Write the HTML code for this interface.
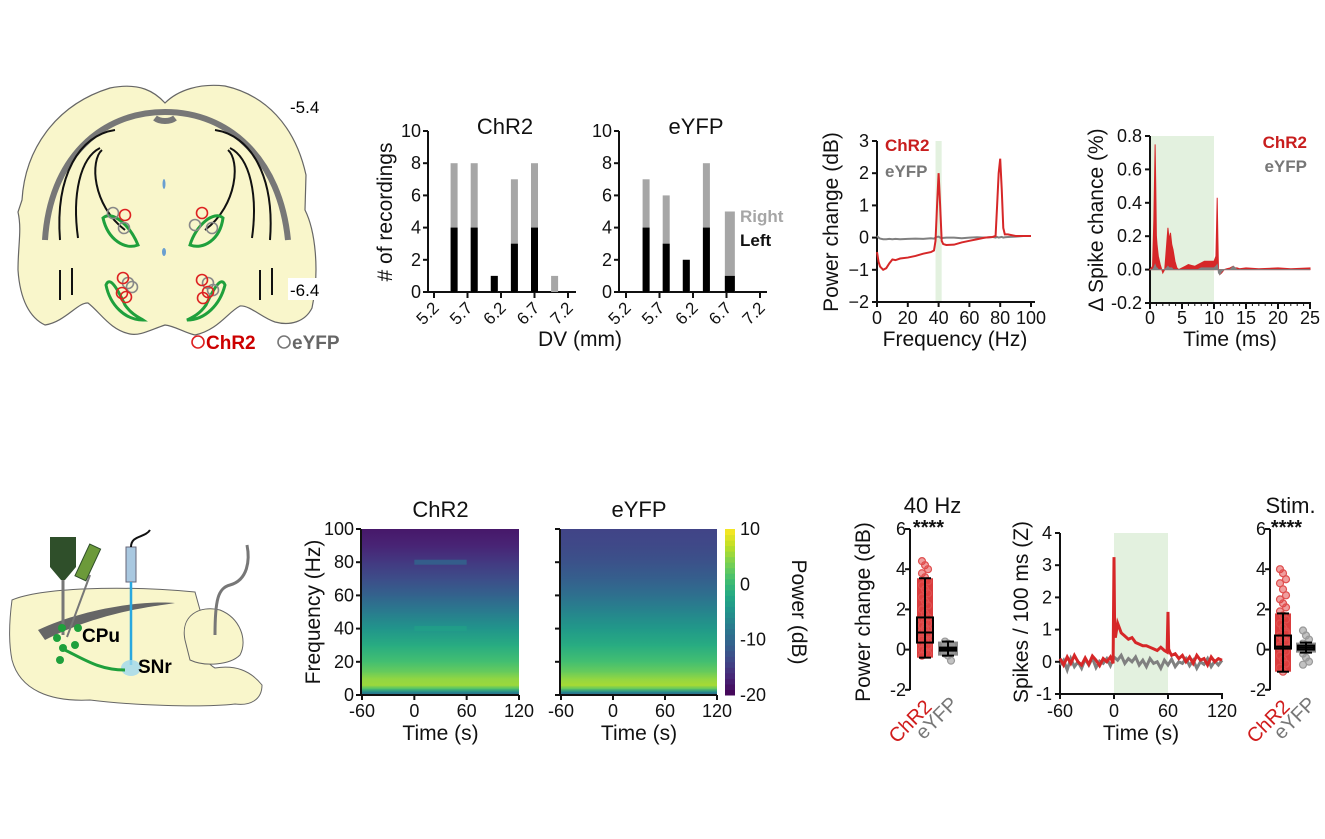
<!DOCTYPE html>
<html><head><meta charset="utf-8"><style>
html,body{margin:0;padding:0;background:#fff;}
svg{display:block;font-family:"Liberation Sans",Arial,sans-serif;}
</style></head><body>
<svg id="fig" width="1325" height="839" viewBox="0 0 1325 839" xmlns="http://www.w3.org/2000/svg">
<defs id="defs"></defs>
<rect x="0" y="0" width="1325" height="839" fill="#fff"/>
<g>
<path d="M22,200 C25,150 55,105 110,88 C140,82 155,92 165,103 C178,90 200,83 225,86 C265,95 295,125 306,175 L305,210 C315,230 320,270 312,308 C305,322 290,326 275,322 C262,318 250,305 240,306 C228,312 218,330 195,335 C185,333 175,326 165,325 C150,330 140,336 130,334 C110,330 100,312 88,303 C78,302 65,322 45,325 C30,318 20,300 18,270 C18,245 22,230 18,212 Z" fill="#f9f6cb" stroke="#666" stroke-width="1.2"/>
<path d="M45,240 C50,160 100,112 165,112 C230,112 280,160 288,240" fill="none" stroke="#777" stroke-width="6"/>
<path d="M155,118 C160,122 170,122 175,118" fill="none" stroke="#777" stroke-width="6"/>
<path d="M115,130 C80,135 55,175 60,240 M100,148 C80,158 72,195 78,238 M102,150 C90,160 92,205 125,230" fill="none" stroke="#111" stroke-width="2"/>
<path d="M215,130 C250,135 275,175 270,240 M230,148 C250,158 258,195 252,238 M228,150 C240,160 238,205 205,230" fill="none" stroke="#111" stroke-width="2"/>
<path d="M60,270 L60,300 M72,268 L72,295 M260,270 L260,300 M272,268 L272,295" stroke="#111" stroke-width="2" fill="none"/>
<ellipse cx="164" cy="184" rx="1.5" ry="5" fill="#6a9fd0"/>
<ellipse cx="164" cy="252" rx="2" ry="4" fill="#6a9fd0"/>
<path d="M103,218 C112,210 130,225 138,245 C125,250 108,240 103,218 Z" fill="none" stroke="#1fa03c" stroke-width="3"/>
<path d="M223,218 C214,210 196,225 190,245 C203,250 220,240 223,218 Z" fill="none" stroke="#1fa03c" stroke-width="3"/>
<path d="M106,285 C110,275 118,290 125,305 C132,315 140,318 143,320 C125,320 110,305 106,285 Z" fill="none" stroke="#1fa03c" stroke-width="3"/>
<path d="M225,285 C221,275 213,290 206,305 C199,315 191,318 187,320 C205,320 220,305 225,285 Z" fill="none" stroke="#1fa03c" stroke-width="3"/>
<g fill="none" stroke="#888" stroke-width="1.6"><circle cx="113" cy="213" r="5.5"/><circle cx="124" cy="228" r="5.5"/><circle cx="195" cy="225" r="5.5"/><circle cx="212" cy="228" r="5.5"/><circle cx="128" cy="283" r="5.5"/><circle cx="132" cy="287" r="5.5"/><circle cx="208" cy="283" r="5.5"/><circle cx="213" cy="290" r="5.5"/></g>
<g fill="none" stroke="#d22" stroke-width="1.6"><circle cx="125" cy="215" r="5.5"/><circle cx="202" cy="213" r="5.5"/><circle cx="123" cy="278" r="5.5"/><circle cx="122" cy="293" r="5.5"/><circle cx="126" cy="297" r="5.5"/><circle cx="202" cy="280" r="5.5"/><circle cx="203" cy="298" r="5.5"/><circle cx="208" cy="292" r="5.5"/></g>
<text x="290" y="113" font-size="17">-5.4</text>
<rect x="288" y="278" width="36" height="22" fill="#fff"/>
<text x="290" y="296" font-size="17">-6.4</text>
<circle cx="198" cy="342" r="6" fill="none" stroke="#d22" stroke-width="1.6"/>
<text x="206" y="349" font-size="19" font-weight="bold" fill="#c00">ChR2</text>
<circle cx="284" cy="342" r="6" fill="none" stroke="#777" stroke-width="1.6"/>
<text x="292" y="349" font-size="19" font-weight="bold" fill="#666">eYFP</text>
</g>
<g>
<path d="M12,600 C40,588 120,585 195,592 L200,610 C196,630 200,660 215,668 C235,665 250,670 262,685 C262,700 250,706 235,704 C200,708 130,705 90,700 C50,702 20,690 12,660 C8,640 10,615 12,600 Z" fill="#f9f6cb" stroke="#666" stroke-width="1"/>
<path d="M185,640 C180,615 200,605 220,610 C240,618 248,640 240,655 C230,665 205,667 190,660 Z" fill="#f9f6cb" stroke="#666" stroke-width="1"/>
<path d="M38,630 C80,610 140,600 175,603 C150,607 100,612 45,640 Z" fill="#666"/>
<path d="M247,545 C250,560 248,580 230,585 C218,588 215,600 215,635" fill="none" stroke="#777" stroke-width="3"/>
<rect x="50" y="537" width="26" height="30" fill="#2f4f2a"/>
<path d="M50,567 L76,567 L65,580 L61,580 Z" fill="#2f4f2a"/>
<line x1="63" y1="580" x2="63" y2="635" stroke="#777" stroke-width="3"/>
<line x1="90" y1="575" x2="67" y2="637" stroke="#777" stroke-width="2"/>
<rect x="82" y="545" width="12" height="35" fill="#6c9a3a" stroke="#2f4f2a" transform="rotate(25 88 562)"/>
<rect x="126" y="547" width="10" height="35" fill="#a9c8e0" stroke="#667"/>
<path d="M131,547 C131,535 145,538 150,530" fill="none" stroke="#111" stroke-width="2"/>
<line x1="131" y1="582" x2="131" y2="665" stroke="#29a8df" stroke-width="2.5"/>
<ellipse cx="131" cy="668" rx="10" ry="8" fill="#9fd8ee" opacity="0.8"/>
<path d="M65,650 C85,660 100,670 125,670" fill="none" stroke="#1fa03c" stroke-width="3"/>
<g fill="#1fa03c"><circle cx="62" cy="628" r="4"/><circle cx="78" cy="628" r="4"/><circle cx="57" cy="638" r="4"/><circle cx="75" cy="645" r="4"/><circle cx="63" cy="648" r="4"/><circle cx="60" cy="660" r="4"/></g>
<text x="82" y="642" font-size="19" font-weight="bold">CPu</text>
<text x="138" y="673" font-size="19" font-weight="bold">SNr</text>
</g>
<g id="charts"></g>
</svg>
<script>
const dvBins = [5.5, 5.8, 6.1, 6.4, 6.7, 7.0];
const chr2Left = [4, 4, 1, 3, 4, 0];
const chr2Total = [8, 8, 1, 7, 8, 1];
const eyfpBins = [5.5, 5.8, 6.1, 6.4, 6.75];
const eyfpLeft = [4, 3, 2, 4, 1];
const eyfpTotal = [7, 6, 2, 8, 5];
const dvTicks = [5.2, 5.7, 6.2, 6.7, 7.2];
const countTicks = [0, 2, 4, 6, 8, 10];

const psdFreq = [0,1,2,4,6,8,10,12,15,20,25,30,35,37,38,39,40,41,42,43,45,50,55,60,65,70,75,77,78,79,80,81,82,83,85,90,95,100];
const psdChr2 = [-0.45,-0.75,-0.9,-1.0,-0.95,-0.8,-0.68,-0.7,-0.65,-0.62,-0.57,-0.5,-0.45,-0.4,-0.1,1.0,2.0,1.0,-0.1,-0.2,-0.23,-0.22,-0.15,-0.1,-0.05,0.0,0.02,0.05,1.0,2.0,2.45,1.5,0.3,0.1,0.1,0.05,0.05,0.05];
const psdEyfp = [0.05,0.0,-0.03,-0.05,-0.05,-0.04,-0.05,-0.04,-0.05,-0.04,-0.03,-0.04,-0.02,-0.03,0.0,0.02,0.03,0.0,-0.02,-0.01,0.0,0.0,-0.02,0.0,0.01,0.0,0.02,0.0,0.02,0.0,0.01,0.02,0.0,0.01,0.02,0.03,0.05,0.05];
const psdYTicks = [-2,-1,0,1,2,3];
const psdXTicks = [0,20,40,60,80,100];

const spkT = [0,0.4,0.6,0.8,0.9,1.0,1.1,1.3,1.6,2.0,2.3,2.6,2.8,3.0,3.2,3.4,3.6,3.9,4.2,4.5,5,5.5,6,6.5,7,7.5,8,8.5,9,9.5,10,10.3,10.5,10.6,10.7,10.9,11.2,11.6,12,12.5,13,13.3,13.6,14,15,17,20,22,25];
const spkChr2 = [0,0.02,0.3,0.75,0.5,0.2,0.15,0.08,0.03,-0.02,0.0,0.15,0.25,0.18,0.22,0.15,0.12,0.05,0.01,0.0,0.01,0.02,0.03,0.025,0.02,0.03,0.04,0.05,0.05,0.05,0.05,0.08,0.43,0.2,0.0,-0.03,-0.02,0.0,0.005,0.01,0.02,0.01,0.01,0.005,0.01,0.005,0.01,0.005,0.01];
const spkEyfp = [0,0,0.01,0.03,0.02,0.01,0.01,0.0,0.0,0.0,0.0,0.01,0.02,0.01,0.01,0.01,0.0,0.0,0.0,0.0,0.0,0.0,0.0,0.0,0.0,0.0,0.01,0.01,0.01,0.01,0.01,0.02,0.03,0.01,-0.02,-0.03,-0.01,0.0,0.0,0.0,0.02,0.01,0.0,0.0,0.0,0.0,0.0,0.0,0.0];
const spkYTicks = [-0.2,0,0.2,0.4,0.6,0.8];
const spkXTicks = [0,5,10,15,20,25];

const specEdges = [0,2,4,6,10,14,20,30,40,50,60,70,80,90,100];
const specChr2 = [-10,-2,5,6,4,2,0,-3,-6,-9,-12,-14,-16,-18];
const specEyfp = [-11,-1,6,6,4,2,0,-3,-5,-8,-10,-12,-13,-14];
const stimLineFreqs = [40, 80];
const stimLineDb = [-3, -10];
const specYTicks = [0,20,40,60,80,100];
const timeTicks = [-60,0,60,120];
const cbTicks = [10,0,-10,-20];

const box40Chr2 = {lo:-0.4, q1:0.35, med:0.85, q3:1.6, hi:3.55};
const box40Eyfp = {lo:-0.3, q1:-0.05, med:0.02, q3:0.1, hi:0.4};
const dots40Chr2 = [4.4,4.2,4.0,3.8,3.6,3.4,3.2,3.0,2.8,2.6,2.4,2.2,2.0,1.8,1.6,1.5,1.4,1.3,1.2,1.1,1.0,0.9,0.8,0.7,0.6,0.5,0.4,0.3,0.2,0.1,0.0,-0.1,-0.2,-0.3,1.0,0.8,0.6,0.4,0.2,0.5];
const dots40Eyfp = [0.4,0.3,0.2,0.1,0.0,-0.1,-0.2,-0.3,-0.55,0.05,-0.05,0.15];
const boxStimChr2 = {lo:-1.1, q1:0.05, med:0.15, q3:0.7, hi:1.8};
const boxStimEyfp = {lo:-0.15, q1:0.0, med:0.1, q3:0.2, hi:0.35};
const dotsStimChr2 = [4.0,3.8,3.5,3.3,3.0,2.7,2.5,2.3,2.1,1.9,1.7,1.5,1.3,1.1,0.9,0.7,0.5,0.3,0.1,0.0,-0.1,-0.3,-0.5,-0.7,-0.9,-1.1,0.4,0.2,0.6,0.8];
const dotsStimEyfp = [0.95,0.7,0.5,0.3,0.1,0.0,-0.2,-0.4,-0.6,-0.75,0.2,0.05];
const boxYTicks = [-2,0,2,4,6];

const zChr2T = [-60,-56,-52,-48,-44,-40,-36,-32,-28,-24,-20,-16,-12,-8,-4,-1,0,0.7,1.5,4,8,12,16,20,24,28,32,36,40,44,48,52,56,59,60,60.7,62,64,68,72,76,80,84,88,92,96,100,104,108,112,116,120];
const zChr2V = [0.1,-0.1,0.15,-0.05,0.2,0,-0.1,0.12,-0.08,0.18,0.05,-0.12,0.1,0.0,0.15,-0.05,3.25,1.0,0.75,1.2,0.9,0.8,0.7,0.75,0.6,0.55,0.5,0.5,0.45,0.4,0.35,0.45,0.35,0.3,1.55,0.4,0.3,0.2,0.25,0.1,0.2,0.0,0.15,-0.05,0.2,0.05,0.1,-0.1,0.15,0.0,0.1,0.05];
const zEyfpT = [-60,-56,-52,-48,-44,-40,-36,-32,-28,-24,-20,-16,-12,-8,-4,0,4,8,12,16,20,24,28,32,36,40,44,48,52,56,60,64,68,72,76,80,84,88,92,96,100,104,108,112,116,120];
const zEyfpV = [-0.1,0.05,-0.25,0.1,-0.15,0.0,-0.2,0.08,-0.1,0.12,-0.18,0.02,-0.05,0.1,-0.12,0.15,0.05,0.2,-0.05,0.1,0.0,0.15,-0.1,0.05,-0.15,0.1,-0.05,0.0,-0.2,0.05,-0.1,0.08,-0.15,0.0,-0.05,0.1,-0.12,0.05,-0.2,0.0,-0.08,0.1,-0.15,0.02,-0.1,0.05];
const zYTicks = [-1,0,1,2,3,4];

const NS = 'http://www.w3.org/2000/svg';
const root = document.getElementById('charts');
const defs = document.getElementById('defs');
const TK = 18, TT = 21;
function mk(tag, attrs, name, parent) {
  const e = document.createElementNS(NS, tag);
  for (const k in attrs) e.setAttribute(k, attrs[k]);
  
  
  (parent || root).appendChild(e);
  return e;
}
function txt(x, y, s, size, name, opts) {
  opts = opts || {};
  const a = {x:x, y:y, 'font-size':size, fill:opts.fill||'#111', 'text-anchor':opts.anchor||'middle'};
  if (opts.bold) a['font-weight'] = 'bold';
  if (opts.rot !== undefined) a.transform = 'rotate(' + opts.rot + ' ' + x + ' ' + y + ')';
  const t = mk('text', a, name);
  t.textContent = s;
  return t;
}
function line(x1,y1,x2,y2,name,stroke,w){ return mk('line',{x1:x1,y1:y1,x2:x2,y2:y2,stroke:stroke||'#111','stroke-width':w||2},name); }
function fmt(v){ return (v<0?'\u2212':'') + Math.abs(v); }
const vir = ['#440154','#482475','#414487','#355f8d','#2a788e','#21918c','#22a884','#44bf70','#7ad151','#bddf26','#fde725'];
function hex(c){return [parseInt(c.substr(1,2),16),parseInt(c.substr(3,2),16),parseInt(c.substr(5,2),16)];}
function viridis(t){ t=Math.max(0,Math.min(1,t)); const p=t*10, i=Math.min(9,Math.floor(p)), f=p-i; const a=hex(vir[i]), b=hex(vir[i+1]); return 'rgb('+a.map((v,k)=>Math.round(v+(b[k]-v)*f)).join(',')+')'; }
function dbColor(v){ return viridis((v+20)/30); }
let gradId = 0;
function vgrad(cBottom, cTop) {
  const id = 'g' + (gradId++);
  const g = mk('linearGradient', {id:id, x1:0, y1:1, x2:0, y2:0}, 'gradient', defs);
  mk('stop', {offset:'0', 'stop-color':cBottom}, 'gradient-stop', g);
  mk('stop', {offset:'1', 'stop-color':cTop}, 'gradient-stop', g);
  return 'url(#' + id + ')';
}

function barChart(ax, tick0, bins, left, total, title) {
  const xs = v => tick0 + (v - 5.2) * 67;
  const ys = v => 292 - v * 16.1;
  line(ax, 131, ax, 293, 'y-axis');
  line(ax-1, 292, ax + 148, 292, 'x-axis');
  countTicks.forEach(c => {
    line(ax-5, ys(c), ax, ys(c), 'y-tick');
    txt(ax-7, ys(c)+6, String(c), TK, 'y-tick-label', {anchor:'end'});
  });
  dvTicks.forEach(d => {
    line(xs(d), 292, xs(d), 298, 'x-tick');
    txt(xs(d)+6, 309, d.toFixed(1), 17, 'x-tick-label', {anchor:'end', rot:-45});
  });
  bins.forEach((b, i) => {
    const w = (i === 4 && title === 'eYFP') ? 10 : 7;
    mk('rect', {x:xs(b)-w/2, y:ys(total[i]), width:w, height:ys(0)-ys(total[i]), fill:'#a6a6a6'}, 'bar-right');
    mk('rect', {x:xs(b)-w/2, y:ys(left[i]), width:w, height:ys(0)-ys(left[i]), fill:'#000'}, 'bar-left');
  });
  txt(ax + 77, 134, title, 22, 'chart-title');
}
barChart(428, 434, dvBins, chr2Left, chr2Total, 'ChR2');
barChart(619, 626, eyfpBins, eyfpLeft, eyfpTotal, 'eYFP');
txt(392, 212, '# of recordings', TT, 'y-axis-title', {rot:-90});
txt(580, 346, 'DV (mm)', TT, 'x-axis-title');
txt(740, 222, 'Right', 17, 'legend-right', {anchor:'start', bold:true, fill:'#a6a6a6'});
txt(740, 246, 'Left', 17, 'legend-left', {anchor:'start', bold:true});

(function(){
  const xs = f => 877 + f * 1.54;
  const ys = v => 302 - (v + 2) * 32.2;
  mk('rect', {x:xs(38), y:ys(3), width:xs(42)-xs(38), height:ys(-2)-ys(3), fill:'#e3f1df'}, 'stim-band');
  line(877, 141, 877, 303, 'y-axis');
  line(876, 302, 1035, 302, 'x-axis');
  psdYTicks.forEach(v => { line(872, ys(v), 877, ys(v), 'y-tick'); txt(869, ys(v)+6, fmt(v), TK, 'y-tick-label', {anchor:'end'}); });
  psdXTicks.forEach(v => { line(xs(v), 302, xs(v), 307, 'x-tick'); txt(xs(v), 324, String(v), TK, 'x-tick-label'); });
  mk('polyline', {points: psdFreq.map((f,i)=>xs(f)+','+ys(psdEyfp[i])).join(' '), fill:'none', stroke:'#808080', 'stroke-width':2}, 'eyfp-power-line');
  mk('polyline', {points: psdFreq.map((f,i)=>xs(f)+','+ys(psdChr2[i])).join(' '), fill:'none', stroke:'#d62728', 'stroke-width':2}, 'chr2-power-line');
  txt(838, 222, 'Power change (dB)', TT, 'y-axis-title', {rot:-90});
  txt(955, 346, 'Frequency (Hz)', TT, 'x-axis-title');
  txt(885, 151, 'ChR2', 17, 'legend-chr2', {anchor:'start', bold:true, fill:'#c81e1e'});
  txt(885, 177, 'eYFP', 17, 'legend-eyfp', {anchor:'start', bold:true, fill:'#777'});
})();

(function(){
  const xs = t => 1150 + t * 6.4;
  const ys = v => 303 - (v + 0.2) * 167;
  mk('rect', {x:xs(0), y:ys(0.8), width:xs(10)-xs(0), height:ys(-0.2)-ys(0.8), fill:'#e3f1df'}, 'stim-band');
  line(1150, 136, 1150, 304, 'y-axis');
  line(1149, 303, 1311, 303, 'x-axis');
  spkYTicks.forEach(v => { line(1145, ys(v), 1150, ys(v), 'y-tick'); txt(1142, ys(v)+6, v.toFixed(1), TK, 'y-tick-label', {anchor:'end'}); });
  spkXTicks.forEach(v => { line(xs(v), 303, xs(v), 309, 'x-tick'); txt(xs(v), 324, String(v), TK, 'x-tick-label'); });
  for (let m = 1; m < 25; m++) { if (m % 5) line(xs(m), 303, xs(m), 306, 'x-minor-tick', '#111', 1); }
  const base = ys(0);
  mk('polygon', {points: xs(0)+','+base+' '+spkT.map((t,i)=>xs(t)+','+ys(spkChr2[i])).join(' ')+' '+xs(25)+','+base, fill:'#d62728', stroke:'#d62728', 'stroke-width':1}, 'chr2-spike-area');
  mk('polygon', {points: xs(0)+','+base+' '+spkT.map((t,i)=>xs(t)+','+ys(spkEyfp[i])).join(' ')+' '+xs(25)+','+base, fill:'#808080', stroke:'#808080', 'stroke-width':1}, 'eyfp-spike-area');
  txt(1103, 220, '\u0394 Spike chance (%)', TT, 'y-axis-title', {rot:-90});
  txt(1230, 346, 'Time (ms)', TT, 'x-axis-title');
  txt(1307, 148, 'ChR2', 17, 'legend-chr2', {anchor:'end', bold:true, fill:'#c81e1e'});
  txt(1307, 172, 'eYFP', 17, 'legend-eyfp', {anchor:'end', bold:true, fill:'#777'});
})();

function spectro(x0, x1, vals, title, withLines, showLabels) {
  const ys = f => 695 - f * 1.66;
  const xs = t => x0 + (t + 60) / 180 * (x1 - x0);
  vals.forEach((v, i) => {
    const vTop = i + 1 < vals.length ? (v + vals[i+1]) / 2 : v;
    const vBot = i > 0 ? (v + vals[i-1]) / 2 : v;
    mk('rect', {x:x0, y:ys(specEdges[i+1]), width:x1-x0, height:ys(specEdges[i])-ys(specEdges[i+1])+0.6, fill:vgrad(dbColor(vBot), dbColor(vTop))}, 'spectrogram-cell');
  });
  if (withLines) {
    stimLineFreqs.forEach((f, i) => {
      mk('rect', {x:xs(0), y:ys(f+1.5), width:xs(60)-xs(0), height:ys(f-1.5)-ys(f+1.5), fill:dbColor(stimLineDb[i]), opacity:0.8}, 'stim-freq-line');
    });
  }
  line(x0-1, 529, x0-1, 696, 'y-axis');
  line(x0-1, 695, x1, 695, 'x-axis');
  specYTicks.forEach(f => { line(x0-6, ys(f), x0-1, ys(f), 'y-tick'); if (showLabels) txt(x0-8, ys(f)+6, String(f), TK, 'y-tick-label', {anchor:'end'}); });
  timeTicks.forEach(t => { line(xs(t), 695, xs(t), 700, 'x-tick'); txt(xs(t), 717, String(t), TK, 'x-tick-label'); });
  txt((x0+x1)/2, 517, title, 22, 'chart-title');
  txt((x0+x1)/2, 740, 'Time (s)', TT, 'x-axis-title');
}
spectro(362, 519, specChr2, 'ChR2', true, true);
spectro(561, 717, specEyfp, 'eYFP', false, false);
txt(320, 612, 'Frequency (Hz)', TT, 'y-axis-title', {rot:-90});
(function(){
  const ys = v => 695 - (v + 20) / 30 * 166;
  for (let k = 0; k < 30; k++) {
    mk('rect', {x:725, y:ys(-20+k+1), width:10, height:ys(-20+k)-ys(-20+k+1)+0.5, fill:dbColor(-20+k+0.5)}, 'colorbar-cell');
  }
  cbTicks.forEach(v => txt(740, ys(v)+6, String(v), TK, 'colorbar-tick-label', {anchor:'start'}));
  txt(792, 612, 'Power (dB)', TT, 'colorbar-title', {rot:90});
})();

function boxPlot(ax, cx1, cx2, b1, b2, d1, d2, title) {
  const ys = v => 529 + (6 - v) * 20.1;
  line(ax, 529, ax, 690, 'y-axis');
  boxYTicks.forEach(v => { line(ax-5, ys(v), ax, ys(v), 'y-tick'); txt(ax-4, ys(v)+6, String(v), TK, 'y-tick-label', {anchor:'end'}); });
  mk('rect', {x:cx1-8, y:ys(b1.hi), width:16, height:ys(b1.lo)-ys(b1.hi), fill:'#d62728', opacity:0.9}, 'chr2-point-cloud');
  mk('rect', {x:cx2-10, y:ys(b2.hi), width:20, height:ys(b2.lo)-ys(b2.hi), fill:'#8a8a8a'}, 'eyfp-point-cloud');
  d1.forEach((v, i) => mk('circle', {cx:cx1 + ((i%3)-1)*3, cy:ys(v), r:3.5, fill:'#e04040', 'fill-opacity':0.5, stroke:'#e05050', 'stroke-width':1.2}, 'chr2-point'));
  d2.forEach((v, i) => mk('circle', {cx:cx2 + ((i%3)-1)*3, cy:ys(v), r:3.5, fill:'#999', 'fill-opacity':0.6, stroke:'#999', 'stroke-width':1.2}, 'eyfp-point'));
  [[b1,cx1,'chr2'],[b2,cx2,'eyfp']].forEach(([b,cx,n]) => {
    line(cx, ys(b.hi), cx, ys(b.lo), n+'-whisker', '#000', 2);
    line(cx-6, ys(b.hi), cx+6, ys(b.hi), n+'-whisker-cap', '#000', 2);
    line(cx-6, ys(b.lo), cx+6, ys(b.lo), n+'-whisker-cap', '#000', 2);
    mk('rect', {x:cx-8, y:ys(b.q3), width:16, height:Math.max(1,ys(b.q1)-ys(b.q3)), fill:'none', stroke:'#000', 'stroke-width':2}, n+'-box');
    line(cx-8, ys(b.med), cx+8, ys(b.med), n+'-median', '#000', 2);
  });
  txt((cx1+cx2)/2-4, 513, title, 22, 'chart-title');
  txt((cx1+cx2)/2-8, 534, '****', 20, 'significance-stars', {bold:true});
  txt(cx1+8, 708, 'ChR2', 20, 'category-label-chr2', {anchor:'end', rot:-45, fill:'#d01c1c'});
  txt(cx2+11, 705, 'eYFP', 20, 'category-label-eyfp', {anchor:'end', rot:-45, fill:'#777'});
}
boxPlot(910, 925, 948, box40Chr2, box40Eyfp, dots40Chr2, dots40Eyfp, '40 Hz');
txt(870, 612, 'Power change (dB)', TT, 'y-axis-title', {rot:-90});
boxPlot(1270, 1283, 1306, boxStimChr2, boxStimEyfp, dotsStimChr2, dotsStimEyfp, 'Stim.');

(function(){
  const xs = t => 1060 + (t + 60) * 0.9;
  const ys = v => 694 - (v + 1) * 32.2;
  mk('rect', {x:xs(0), y:ys(4), width:xs(60)-xs(0), height:ys(-1)-ys(4), fill:'#e3f1df'}, 'stim-band');
  line(1060, 533, 1060, 695, 'y-axis');
  line(1059, 694, 1223, 694, 'x-axis');
  zYTicks.forEach(v => { line(1055, ys(v), 1060, ys(v), 'y-tick'); txt(1052, ys(v)+6, String(v), TK, 'y-tick-label', {anchor:'end'}); });
  timeTicks.forEach(t => { line(xs(t), 694, xs(t), 699, 'x-tick'); txt(xs(t), 717, String(t), TK, 'x-tick-label'); });
  mk('polyline', {points: zEyfpT.map((t,i)=>xs(t)+','+ys(zEyfpV[i])).join(' '), fill:'none', stroke:'#808080', 'stroke-width':3}, 'eyfp-spike-rate-line');
  mk('polyline', {points: zChr2T.map((t,i)=>xs(t)+','+ys(zChr2V[i])).join(' '), fill:'none', stroke:'#d62728', 'stroke-width':3}, 'chr2-spike-rate-line');
  txt(1028, 612, 'Spikes / 100 ms (Z)', TT, 'y-axis-title', {rot:-90});
  txt(1141, 740, 'Time (s)', TT, 'x-axis-title');
})();
</script>
</body></html>
